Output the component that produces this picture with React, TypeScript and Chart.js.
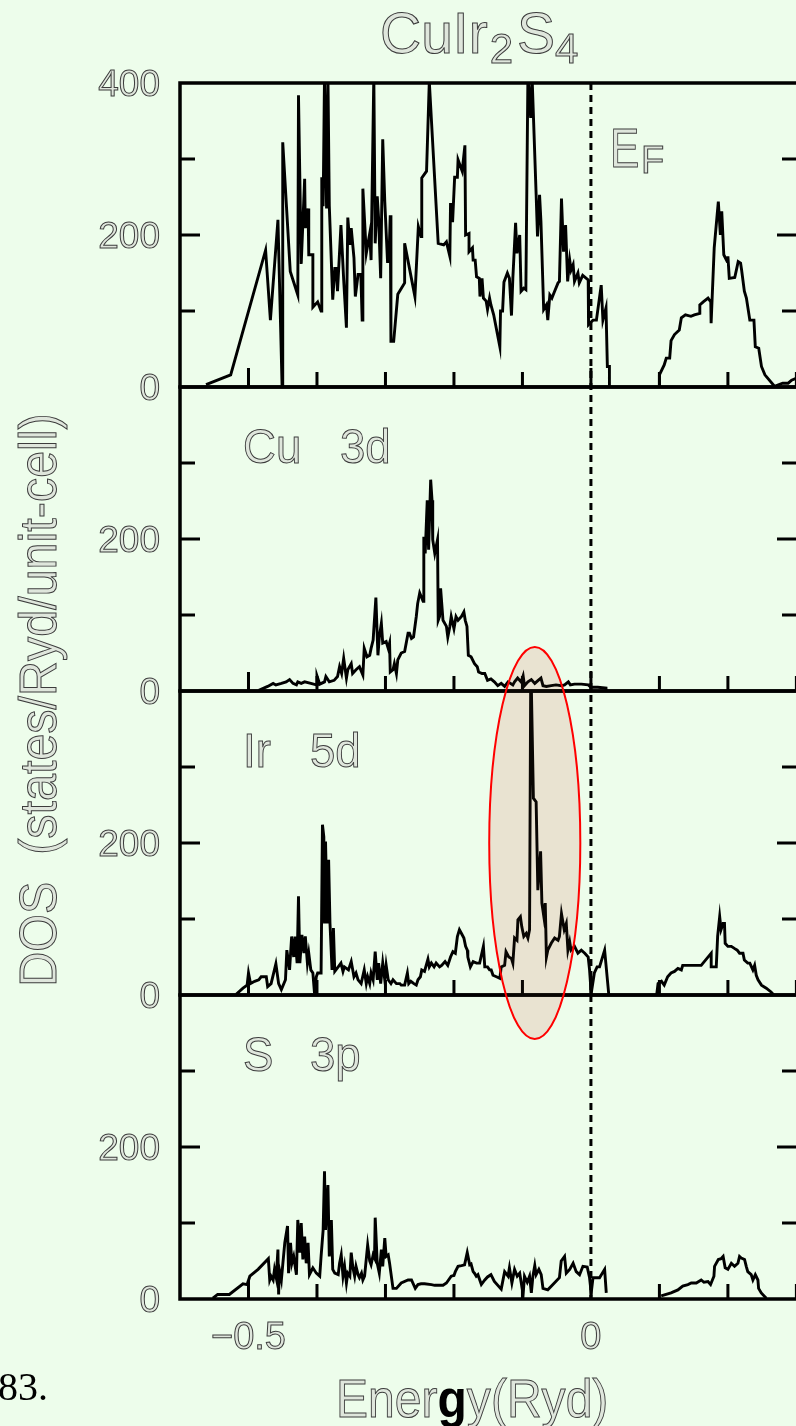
import React, { useEffect, useRef } from "react";
import { Chart, registerables } from "chart.js";

Chart.register(...registerables);

// ---------------- DATA ----------------
const totalE = [-0.562,-0.526,-0.475,-0.468,-0.457,-0.451,-0.450,-0.439,-0.428,-0.427,-0.423,-0.418,-0.417,-0.413,-0.412,-0.406,-0.406,-0.399,-0.394,-0.393,-0.391,-0.389,-0.386,-0.384,-0.382,-0.377,-0.374,-0.372,-0.370,-0.365,-0.361,-0.357,-0.355,-0.352,-0.350,-0.346,-0.344,-0.340,-0.336,-0.334,-0.333,-0.328,-0.323,-0.321,-0.317,-0.315,-0.312,-0.310,-0.307,-0.304,-0.301,-0.297,-0.295,-0.293,-0.292,-0.288,-0.282,-0.272,-0.272,-0.257,-0.252,-0.248,-0.247,-0.240,-0.236,-0.223,-0.215,-0.211,-0.206,-0.205,-0.202,-0.199,-0.195,-0.194,-0.188,-0.184,-0.183,-0.178,-0.178,-0.173,-0.172,-0.169,-0.167,-0.163,-0.162,-0.159,-0.157,-0.153,-0.151,-0.148,-0.146,-0.142,-0.133,-0.132,-0.129,-0.127,-0.122,-0.119,-0.116,-0.114,-0.110,-0.108,-0.104,-0.102,-0.098,-0.095,-0.092,-0.088,-0.086,-0.080,-0.078,-0.075,-0.073,-0.069,-0.065,-0.063,-0.060,-0.057,-0.053,-0.048,-0.046,-0.043,-0.040,-0.037,-0.034,-0.031,-0.029,-0.026,-0.024,-0.019,-0.017,-0.012,-0.004,-0.0035,0.003,0.008,0.015,0.0175,0.022,0.024,0.027,0.027,0.06,0.100,0.100,0.107,0.110,0.115,0.117,0.122,0.129,0.132,0.138,0.146,0.151,0.159,0.159,0.164,0.171,0.175,0.1755,0.180,0.186,0.189,0.191,0.194,0.199,0.200,0.202,0.210,0.215,0.2185,0.220,0.224,0.227,0.232,0.238,0.240,0.245,0.249,0.254,0.268,0.280,0.288,0.293,0.301,0.31];
const totalDos = [3,16,180,88,220,3,322,152,121,384,162,274,209,235,174,174,105,112,100,276,238,410,235,410,238,115,156,156,126,213,141,78,223,187,209,170,119,148,148,88,261,176,202,167,410,189,251,222,143,326,244,165,165,226,60,60,122,137,189,119,211,198,275,284,402,189,187,191,172,242,217,276,276,299,284,318,200,202,178,183,167,167,145,143,119,143,117,113,102,117,108,95,53,100,100,138,150,143,94,143,216,176,200,126,130,128,410,354,410,253,198,253,218,102,108,88,121,117,126,137,139,248,178,213,139,167,154,161,139,150,137,147,141,82,88,88,134,88,104,27,27,0,null,0,16,29,38,38,61,69,75,91,95,93,95,97,108,112,117,112,84,183,244,200,231,174,165,172,143,144,165,163,154,126,117,88,88,53,51,27,16,1,5,5,9,12,12];

const cuE = [-0.485,-0.472,-0.464,-0.460,-0.452,-0.445,-0.440,-0.435,-0.430,-0.428,-0.423,-0.418,-0.409,-0.401,-0.400,-0.396,-0.389,-0.387,-0.382,-0.375,-0.370,-0.367,-0.364,-0.361,-0.357,-0.355,-0.350,-0.348,-0.343,-0.338,-0.333,-0.331,-0.327,-0.323,-0.321,-0.318,-0.314,-0.311,-0.309,-0.306,-0.304,-0.299,-0.296,-0.294,-0.293,-0.289,-0.287,-0.284,-0.282,-0.277,-0.272,-0.267,-0.265,-0.262,-0.259,-0.255,-0.253,-0.250,-0.245,-0.244,-0.242,-0.239,-0.237,-0.234,-0.232,-0.231,-0.228,-0.224,-0.223,-0.221,-0.2195,-0.216,-0.211,-0.209,-0.206,-0.204,-0.200,-0.197,-0.194,-0.189,-0.1855,-0.1835,-0.181,-0.179,-0.175,-0.170,-0.166,-0.164,-0.159,-0.155,-0.151,-0.146,-0.141,-0.136,-0.131,-0.126,-0.121,-0.114,-0.1115,-0.107,-0.102,-0.099,-0.097,-0.092,-0.087,-0.082,-0.077,-0.073,-0.070,-0.065,-0.058,-0.051,-0.043,-0.0385,-0.033,-0.030,-0.024,-0.014,-0.004,0.000,0.010,0.022,0.022];
const cuDos = [1,6,10,8,10,12,15,10,8,12,10,12,10,8,20,9,12,19,12,14,19,32,23,43,17,28,36,23,28,32,21,56,45,47,56,67,123,47,71,89,63,65,56,63,25,28,36,23,41,50,52,76,76,69,71,98,115,129,118,203,181,251,186,278,251,199,181,199,93,98,135,93,85,71,85,98,82,98,93,98,104,93,85,47,45,36,32,25,23,23,14,16,12,7,10,6,12,8,12,17,12,20,7,12,15,10,14,17,7,6,7,8,7,8,12,8,9,9,8,5,5,4,0];

const irE = [-0.518,-0.508,-0.502,-0.500,-0.497,-0.491,-0.485,-0.4815,-0.474,-0.472,-0.467,-0.460,-0.456,-0.452,-0.446,-0.444,-0.440,-0.437,-0.434,-0.432,-0.429,-0.427,-0.425,-0.422,-0.419,-0.417,-0.414,-0.412,-0.409,-0.406,-0.4036,-0.401,-0.399,-0.394,-0.392,-0.390,-0.389,-0.3875,-0.385,-0.383,-0.381,-0.378,-0.376,-0.374,-0.369,-0.365,-0.362,-0.360,-0.354,-0.350,-0.346,-0.343,-0.340,-0.3355,-0.331,-0.328,-0.326,-0.323,-0.321,-0.318,-0.315,-0.312,-0.310,-0.307,-0.304,-0.301,-0.299,-0.296,-0.292,-0.289,-0.284,-0.279,-0.277,-0.272,-0.268,-0.266,-0.263,-0.2585,-0.255,-0.2525,-0.249,-0.247,-0.243,-0.238,-0.236,-0.233,-0.229,-0.226,-0.221,-0.218,-0.213,-0.209,-0.205,-0.2015,-0.198,-0.195,-0.192,-0.189,-0.1855,-0.183,-0.1805,-0.1797,-0.176,-0.172,-0.167,-0.1625,-0.157,-0.155,-0.151,-0.148,-0.1456,-0.143,-0.138,-0.133,-0.131,-0.126,-0.124,-0.120,-0.116,-0.114,-0.1115,-0.108,-0.1066,-0.103,-0.101,-0.098,-0.0945,-0.092,-0.0896,-0.088,-0.087,-0.084,-0.080,-0.0775,-0.0735,-0.0716,-0.0687,-0.0667,-0.065,-0.063,-0.058,-0.053,-0.048,-0.046,-0.043,-0.039,-0.036,-0.0336,-0.031,-0.029,-0.024,-0.019,-0.014,-0.009,-0.004,-0.002,0.0004,0.005,0.009,0.0126,0.020,0.026,0.06,0.096,0.098,0.103,0.107,0.112,0.117,0.122,0.127,0.132,0.134,0.161,0.1756,0.1756,0.183,0.185,0.188,0.190,0.193,0.195,0.196,0.200,0.205,0.210,0.2136,0.217,0.222,0.224,0.229,0.232,0.2365,0.239,0.2414,0.244,0.249,0.256,0.263,0.267];
const irDos = [1,9,13,29,15,18,20,24,24,11,15,41,15,7,20,59,33,77,50,77,42,130,42,79,55,77,42,55,33,29,2,24,29,29,224,208,94,202,94,178,94,33,88,31,37,42,31,37,33,44,24,29,20,15,33,15,24,15,29,20,57,20,42,15,42,20,39,20,15,20,15,15,13,13,29,15,18,15,13,20,24,33,31,47,37,42,37,42,37,39,44,39,50,57,55,77,86,81,75,64,59,50,37,44,42,42,64,37,37,33,33,26,24,22,37,39,57,50,48,42,75,72,99,103,90,77,81,75,86,405,405,259,254,138,189,121,103,121,50,59,68,75,72,77,107,86,94,59,70,59,64,55,59,55,50,33,2,29,37,37,59,1,null,0,15,18,13,24,29,31,35,33,39,39,55,37,37,77,103,86,94,94,68,64,64,61,59,55,55,46,42,42,33,39,26,20,13,9,4,0];

const sE = [-0.552,-0.545,-0.528,-0.508,-0.502,-0.498,-0.486,-0.471,-0.469,-0.467,-0.464,-0.462,-0.4595,-0.457,-0.456,-0.455,-0.452,-0.450,-0.447,-0.443,-0.4415,-0.4386,-0.4366,-0.434,-0.430,-0.428,-0.425,-0.423,-0.4206,-0.418,-0.4157,-0.413,-0.411,-0.406,-0.401,-0.396,-0.394,-0.391,-0.389,-0.3875,-0.384,-0.382,-0.379,-0.377,-0.374,-0.369,-0.367,-0.3646,-0.362,-0.3597,-0.357,-0.355,-0.352,-0.350,-0.3475,-0.345,-0.343,-0.340,-0.338,-0.335,-0.333,-0.3305,-0.326,-0.323,-0.321,-0.318,-0.316,-0.315,-0.312,-0.309,-0.306,-0.304,-0.301,-0.299,-0.296,-0.294,-0.289,-0.284,-0.277,-0.267,-0.262,-0.2565,-0.2526,-0.248,-0.243,-0.233,-0.228,-0.216,-0.211,-0.204,-0.200,-0.198,-0.194,-0.189,-0.1845,-0.1806,-0.177,-0.175,-0.172,-0.170,-0.1674,-0.165,-0.160,-0.155,-0.151,-0.146,-0.141,-0.131,-0.126,-0.121,-0.119,-0.1154,-0.1115,-0.1076,-0.104,-0.099,-0.097,-0.093,-0.0896,-0.087,-0.0847,-0.082,-0.080,-0.076,-0.0726,-0.070,-0.063,-0.0555,-0.046,-0.0434,-0.0385,-0.036,-0.031,-0.026,-0.0215,-0.0166,-0.0117,-0.0054,-0.002,0.0004,0.003,0.0126,0.020,0.0224,0.06,0.1026,0.117,0.127,0.134,0.1416,0.1465,0.1538,0.161,0.165,0.171,0.1747,0.1796,0.1805,0.186,0.190,0.193,0.196,0.200,0.205,0.2097,0.2146,0.217,0.2195,0.2243,0.2268,0.229,0.234,0.2365,0.240,0.2438,0.2448,0.2487,0.256];
const sDos = [1,6,6,20,19,30,39,53,25,30,25,39,28,65,6,39,25,45,74,96,34,74,47,56,32,104,61,100,52,82,47,74,32,41,34,30,56,91,168,91,150,56,104,39,34,32,47,58,30,43,21,34,30,61,41,30,43,32,28,34,25,30,71,50,45,58,54,107,47,34,65,43,80,56,58,47,14,14,21,25,25,14,19,20,20,19,18,18,21,30,31,36,43,44,45,61,45,46,36,34,30,32,19,25,29,32,23,13,36,30,41,21,39,30,34,6,30,22,30,8,30,44,32,39,32,14,12,19,28,50,56,34,39,47,36,32,43,42,28,8,28,28,39,8,null,4,8,12,17,19,21,21,25,22,23,19,30,43,52,53,56,41,39,47,43,47,56,54,52,43,36,32,25,32,25,14,8,1];

const panelIds = ["yTot", "yCu", "yIr", "yS"];
const panelLabels = [null, ["Cu", "3d"], ["Ir", "5d"], ["S", "3p"]];
const yMinorTicks = [100, 300];
const yMajorTicks = [200];
const yTickLabelsTop = [400, 200, 0];
const yTickLabelsOther = [200, 0];
const xTickValues = [-0.5, -0.4, -0.3, -0.2, -0.1, 0, 0.1, 0.2, 0.3];
const xMajorTicks = [-0.5, 0];
const xTickLabels = [{ v: -0.5, t: "\u22120.5" }, { v: 0, t: "0" }];
const fermiEnergy = 0;
const highlight = { e: -0.082, dos: 200, halfE: 0.0665, halfDos: 258 };

const BG = "#edfdeb";
const TXT_FILL = "#dfe6dc";
const TXT_STROKE = "#3c3c3c";
const FONT = "'Liberation Sans', Arial, sans-serif";

function outlined(ctx, text, x, y, size, align = "left", scaleX = 1) {
  ctx.save();
  ctx.font = `${size}px ${FONT}`;
  ctx.textAlign = align;
  ctx.textBaseline = "alphabetic";
  ctx.translate(x, y);
  ctx.scale(scaleX, 1);
  ctx.fillStyle = TXT_FILL;
  ctx.fillText(text, 0, 0);
  ctx.strokeStyle = TXT_STROKE;
  ctx.lineWidth = 1;
  ctx.strokeText(text, 0, 0);
  ctx.restore();
}

function textW(ctx, text, size, weight = "normal") {
  ctx.save();
  ctx.font = `${weight} ${size}px ${FONT}`;
  const w = ctx.measureText(text).width;
  ctx.restore();
  return w;
}

function ellipseGeom(chart) {
  const xs = chart.scales.x;
  const sIr = chart.scales[panelIds[2]];
  const cx = xs.getPixelForValue(highlight.e);
  const cy = sIr.getPixelForValue(highlight.dos);
  const rx = xs.getPixelForValue(highlight.e + highlight.halfE) - cx;
  const ry = cy - sIr.getPixelForValue(highlight.dos + highlight.halfDos);
  return { cx, cy, rx, ry };
}

const decorPlugin = {
  id: "decor",
  beforeDraw(chart) {
    const ctx = chart.ctx;
    ctx.save();
    ctx.fillStyle = BG;
    ctx.fillRect(0, 0, chart.width, chart.height);
    ctx.restore();
  },
  beforeDatasetsDraw(chart) {
    const ctx = chart.ctx;
    const { cx, cy, rx, ry } = ellipseGeom(chart);
    ctx.save();
    ctx.beginPath();
    ctx.ellipse(cx, cy, rx, ry, 0, 0, Math.PI * 2);
    ctx.fillStyle = "#ece9da";
    ctx.fill();
    ctx.restore();
  },
  afterDatasetsDraw(chart) {
    const ctx = chart.ctx;
    const xs = chart.scales.x;
    const ys = panelIds.map((id) => chart.scales[id]);
    const L = xs.left, R = xs.right;
    ctx.save();
    ctx.strokeStyle = "#000";
    ctx.lineCap = "butt";
    // ticks
    ctx.lineWidth = 3;
    ys.forEach((s) => {
      ctx.beginPath();
      yMinorTicks.forEach((v) => {
        const py = s.getPixelForValue(v);
        ctx.moveTo(L, py); ctx.lineTo(L + 15, py);
        ctx.moveTo(R, py); ctx.lineTo(R - 17, py);
      });
      yMajorTicks.forEach((v) => {
        const py = s.getPixelForValue(v);
        ctx.moveTo(L, py); ctx.lineTo(L + 20, py);
        ctx.moveTo(R, py); ctx.lineTo(R - 22, py);
      });
      xTickValues.forEach((v) => {
        const px = xs.getPixelForValue(v);
        const len = xMajorTicks.includes(v) ? 19 : 15;
        ctx.moveTo(px, s.bottom); ctx.lineTo(px, s.bottom - len);
      });
      ctx.stroke();
    });
    // frames
    ctx.lineWidth = 3.5;
    ys.forEach((s) => {
      ctx.strokeRect(L, s.top, R - L, s.bottom - s.top);
    });
    // Fermi level dashed line
    const fx = xs.getPixelForValue(fermiEnergy);
    ctx.beginPath();
    ctx.setLineDash([7, 5]);
    ctx.lineWidth = 3;
    ctx.moveTo(fx, ys[0].top);
    ctx.lineTo(fx, ys[3].bottom);
    ctx.stroke();
    ctx.setLineDash([]);
    // highlight ellipse outline (Ir 5d peak)
    const { cx, cy, rx, ry } = ellipseGeom(chart);
    ctx.beginPath();
    ctx.ellipse(cx, cy, rx, ry, 0, 0, Math.PI * 2);
    ctx.fillStyle = "rgba(180, 120, 60, 0.05)";
    ctx.fill();
    ctx.strokeStyle = "#ff0000";
    ctx.lineWidth = 2;
    ctx.stroke();
    ctx.restore();

    // ---- texts ----
    ys.forEach((s, i) => {
      const labels = i === 0 ? yTickLabelsTop : yTickLabelsOther;
      labels.forEach((v) => {
        outlined(ctx, String(v), 160, s.getPixelForValue(v) + 13, 37, "right");
      });
    });
    xTickLabels.forEach(({ v, t }) => {
      outlined(ctx, t, xs.getPixelForValue(v), 1349, 38, "center");
    });
    panelLabels.forEach((lab, i) => {
      if (!lab) return;
      const s = ys[i];
      const base = s.top + 76;
      outlined(ctx, lab[0], 243, base, 49, "left", 0.93);
      outlined(ctx, lab[1], i === 1 ? 340 : 310, base, 49, "left", 0.93);
    });
    // E_F
    outlined(ctx, "E", 610, 167, 55, "left", 0.8);
    outlined(ctx, "F", 641, 173, 38, "left", 1);
    // Title CuIr2S4
    let tx = 380;
    const tb = 53;
    outlined(ctx, "CuIr", tx, tb, 57); tx += textW(ctx, "CuIr", 57);
    outlined(ctx, "2", tx + 2, tb + 10, 42); tx += textW(ctx, "2", 42) + 6;
    outlined(ctx, "S", tx, tb, 57); tx += textW(ctx, "S", 57);
    outlined(ctx, "4", tx, tb + 10, 42);
    // x-axis title with bold black g
    const esz = 54;
    const sx = 0.89;
    let ex = 336;
    const eb = 1417;
    outlined(ctx, "Ener", ex, eb, esz, "left", sx); ex += textW(ctx, "Ener", esz) * sx;
    ctx.save();
    ctx.font = `bold ${esz}px ${FONT}`;
    ctx.fillStyle = "#000";
    ctx.textBaseline = "alphabetic";
    ctx.translate(ex, eb);
    ctx.scale(sx, 1);
    ctx.fillText("g", 0, 0);
    ctx.restore();
    ex += textW(ctx, "g", esz, "bold") * sx;
    outlined(ctx, "y(Ryd)", ex, eb, esz, "left", sx);
    // y-axis title (rotated)
    ctx.save();
    ctx.translate(56, 700);
    ctx.rotate(-Math.PI / 2);
    outlined(ctx, "DOS  (states/Ryd/unit-cell)", 0, 0, 51, "center", 0.95);
    ctx.restore();
    // stray page number fragment
    ctx.save();
    ctx.font = "40px 'Liberation Serif', 'Times New Roman', serif";
    ctx.fillStyle = "#000";
    ctx.textBaseline = "alphabetic";
    ctx.fillText("83.", -2, 1400);
    ctx.restore();
  },
};

function toPoints(xs: number[], ys: (number | null)[]) {
  return xs.map((x, i) => ({ x, y: ys[i] }));
}

export default function App() {
  const ref = useRef<HTMLCanvasElement | null>(null);
  useEffect(() => {
    if (!ref.current) return;
    const series = [
      [totalE, totalDos],
      [cuE, cuDos],
      [irE, irDos],
      [sE, sDos],
    ];
    const yScale = () => ({
      type: "linear",
      min: 0,
      max: 400,
      position: "left",
      stack: "dos",
      stackWeight: 1,
      display: false,
    });
    const scales: any = {
      x: { type: "linear", min: -0.6, max: 0.3038, display: false },
    };
    [...panelIds].reverse().forEach((id) => { scales[id] = yScale(); });
    const chart = new Chart(ref.current, {
      type: "line",
      data: {
        datasets: series.map(([e, d], i) => ({
          label: panelIds[i],
          data: toPoints(e as number[], d as (number | null)[]),
          yAxisID: panelIds[i],
          borderColor: "#000",
          borderWidth: 2.9,
          pointRadius: 0,
          tension: 0,
          spanGaps: false,
          fill: false,
        })),
      },
      options: {
        animation: false,
        responsive: false,
        devicePixelRatio: 1,
        parsing: { xAxisKey: "x", yAxisKey: "y" },
        layout: { padding: { left: 180, top: 83, right: 1, bottom: 127 } },
        plugins: { legend: { display: false }, tooltip: { enabled: false }, title: { display: false } },
        events: [],
        scales,
      },
      plugins: [decorPlugin],
    });
    return () => chart.destroy();
  }, []);
  return (
    <div style={{ position: "fixed", left: 0, top: 0, width: 800, height: 1426, background: BG, overflow: "hidden" }}>
      <canvas ref={ref} width={800} height={1426} style={{ display: "block" }} />
    </div>
  );
}
